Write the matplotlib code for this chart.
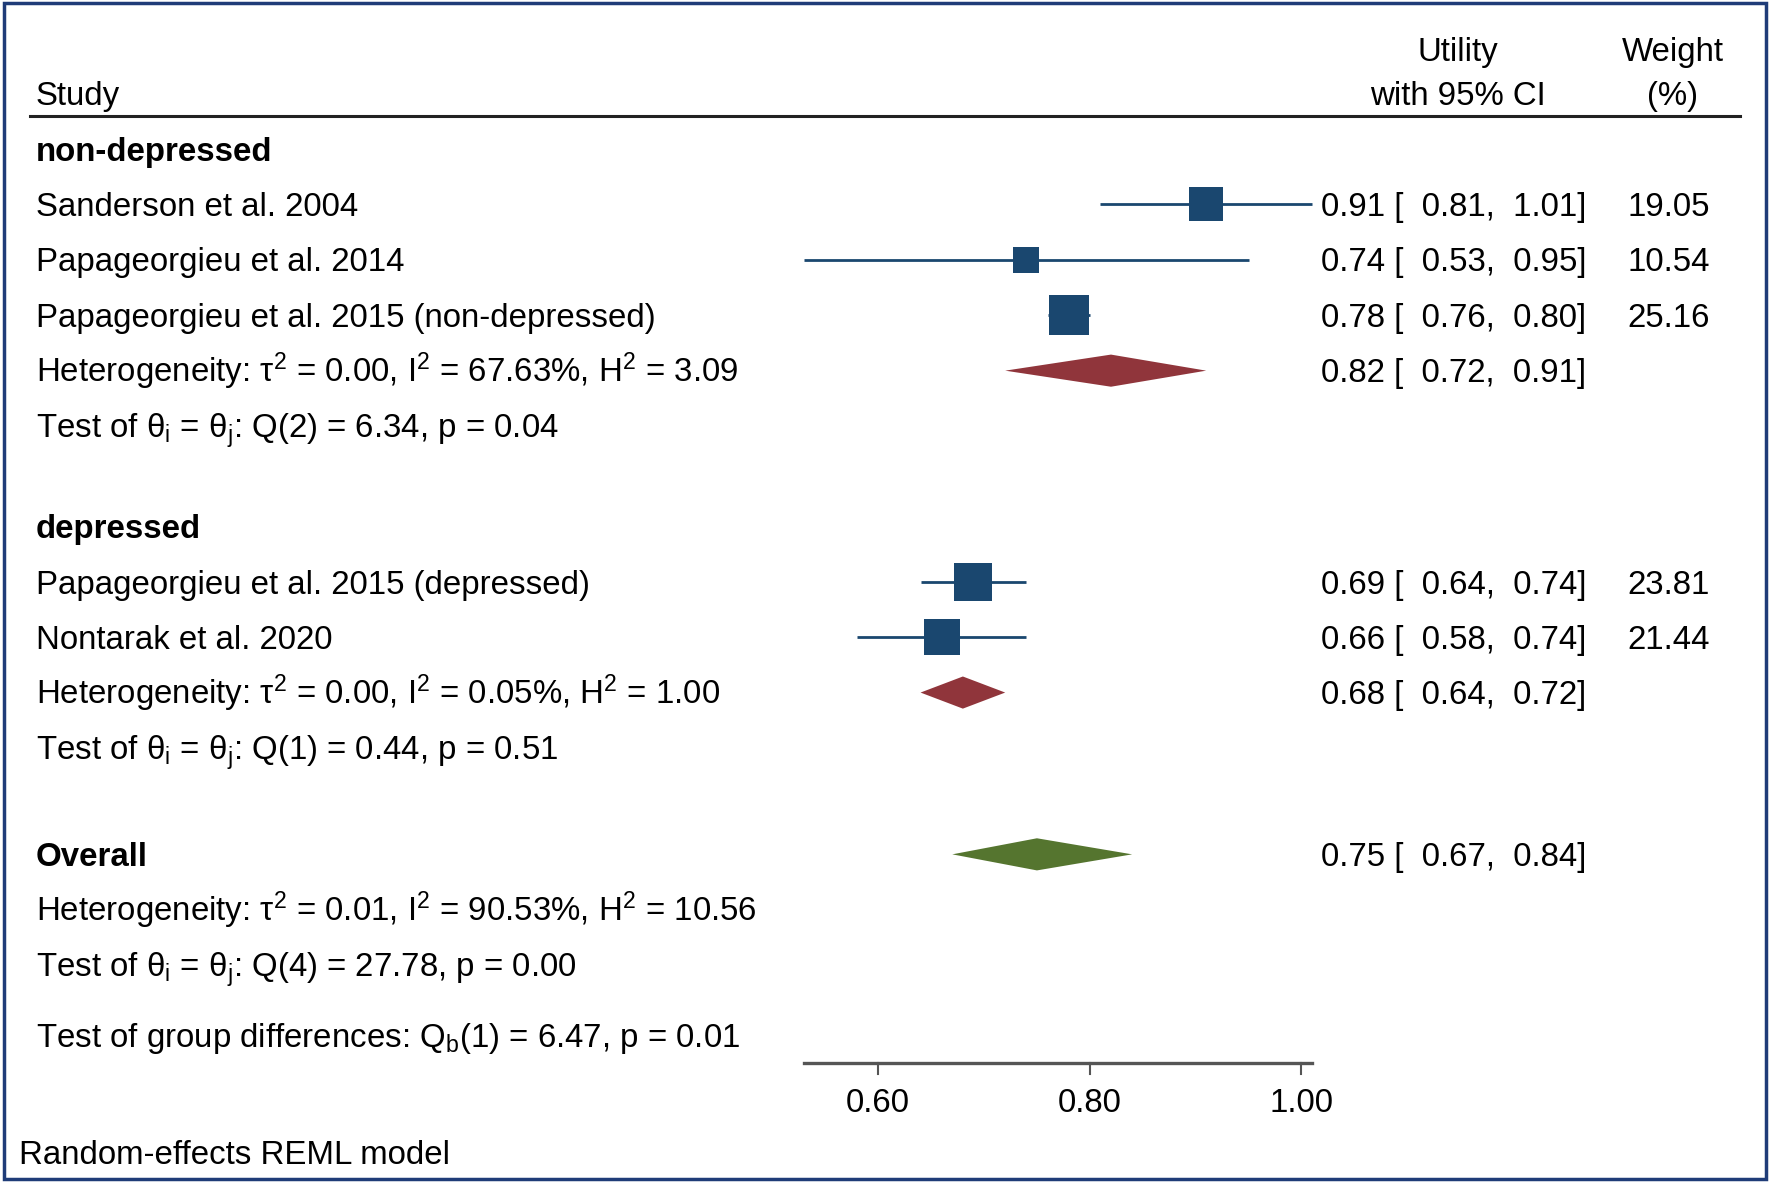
import numpy as np
import matplotlib
matplotlib.use("Agg")
import matplotlib.pyplot as plt
from matplotlib.patches import Polygon, Rectangle

plt.rcParams['font.family'] = ['Liberation Sans', 'DejaVu Sans']
plt.rcParams['mathtext.fontset'] = 'custom'
plt.rcParams['mathtext.rm'] = 'Liberation Sans'
plt.rcParams['mathtext.it'] = 'Liberation Sans:italic'

# ---- data ----
studies = ["Sanderson et al. 2004", "Papageorgieu et al. 2014",
           "Papageorgieu et al. 2015 (non-depressed)",
           "Papageorgieu et al. 2015 (depressed)", "Nontarak et al. 2020"]
est = [0.91, 0.74, 0.78, 0.69, 0.66]
lo = [0.81, 0.53, 0.76, 0.64, 0.58]
hi = [1.01, 0.95, 0.80, 0.74, 0.74]
weight = [19.05, 10.54, 25.16, 23.81, 21.44]

group_names = ["non-depressed", "depressed"]
group_est = [0.82, 0.68]
group_lo = [0.72, 0.64]
group_hi = [0.91, 0.72]
group_het = [r"Heterogeneity: τ$^2$ = 0.00, I$^2$ = 67.63%, H$^2$ = 3.09",
             r"Heterogeneity: τ$^2$ = 0.00, I$^2$ = 0.05%, H$^2$ = 1.00"]
group_test = [r"Test of θ$_\mathrm{i}$ = θ$_\mathrm{j}$: Q(2) = 6.34, p = 0.04",
              r"Test of θ$_\mathrm{i}$ = θ$_\mathrm{j}$: Q(1) = 0.44, p = 0.51"]

overall_est, overall_lo, overall_hi = 0.75, 0.67, 0.84
overall_het = r"Heterogeneity: τ$^2$ = 0.01, I$^2$ = 90.53%, H$^2$ = 10.56"
overall_test = r"Test of θ$_\mathrm{i}$ = θ$_\mathrm{j}$: Q(4) = 27.78, p = 0.00"
group_diff = r"Test of group differences: Q$_\mathrm{b}$(1) = 6.47, p = 0.01"

xticks = [0.60, 0.80, 1.00]

# ---- layout (row units, top to bottom) ----
study_rows = [1.0, 2.0, 3.0, 7.82, 8.81]
group_rows = [0.0, 6.81]
gsum_rows = [4.0, 9.81]
gtest_rows = [5.0, 10.81]
overall_row = 12.73

navy = "#1a476f"
maroon = "#90353b"
green = "#55752f"
fs = 23.8
base = 0.21  # baseline offset so the cap height is centred on the row

fig = plt.figure(figsize=(17.7, 11.84), dpi=100)
ax = fig.add_axes([0, 0, 1, 1])
ax.set_xlim(-0.2301, 1.4429)
ax.set_ylim(18.68, -2.69)
ax.axis("off")

tr = ax.get_yaxis_transform()  # x in axes fraction, y in data
x_left = 0.0203
x_es = 0.7463
x_w = 0.966


def txt(x, row, s, ha="left", trans=tr, **kw):
    ax.text(x, row + base, s, transform=trans, fontsize=fs, va="baseline",
            ha=ha, **kw)


# header
txt(x_left, -1.0, "Study")
txt(0.8237, -1.79, "Utility", ha="center")
txt(0.8237, -1.0, "with 95% CI", ha="center")
txt(0.945, -1.79, "Weight", ha="center")
txt(0.945, -1.0, "(%)", ha="center")
ax.axhline(-0.59, xmin=0.0169, xmax=0.983, color="#222222", lw=2.2)


def ci_text(e, l, h):
    return "%.2f [  %.2f,  %.2f]" % (e, l, h)


def diamond(e, l, h, y, color):
    hh = 0.29
    ax.add_patch(Polygon([[l, y], [e, y - hh], [h, y], [e, y + hh]],
                         closed=True, facecolor=color, edgecolor="none"))


# groups
gi = [[0, 1, 2], [3, 4]]
for g in range(2):
    txt(x_left, group_rows[g], group_names[g], fontweight="bold")
    for i in gi[g]:
        y = study_rows[i]
        txt(x_left, y, studies[i])
        ax.plot([lo[i], hi[i]], [y, y], color=navy, lw=2.0, solid_capstyle="butt")
        ax.plot(est[i], y, marker="s", color=navy, markeredgewidth=0,
                markersize=5.6 * np.sqrt(weight[i]))
        txt(x_es, y, ci_text(est[i], lo[i], hi[i]))
        txt(x_w, y, "%.2f" % weight[i], ha="right")
    y = gsum_rows[g]
    txt(x_left, y, group_het[g])
    diamond(group_est[g], group_lo[g], group_hi[g], y, maroon)
    txt(x_es, y, ci_text(group_est[g], group_lo[g], group_hi[g]))
    txt(x_left, gtest_rows[g], group_test[g])

# overall
txt(x_left, overall_row, "Overall", fontweight="bold")
diamond(overall_est, overall_lo, overall_hi, overall_row, green)
txt(x_es, overall_row, ci_text(overall_est, overall_lo, overall_hi))
txt(x_left, overall_row + 1, overall_het)
txt(x_left, overall_row + 2, overall_test)
txt(x_left, 15.99, group_diff)

# x axis
ax_y = 16.5
ax.plot([min(lo), max(hi)], [ax_y, ax_y], color="#555555", lw=2.4)
for t in xticks:
    ax.plot([t, t], [ax_y, ax_y + 0.2], color="#555555", lw=1.5)
    txt(t, 17.17, "%.2f" % t, ha="center", trans=ax.transData)

txt(0.011, 18.1, "Random-effects REML model")

# outer frame
fig.patches.append(Rectangle((4 / 1770, 5 / 1184), 1762 / 1770, 1176 / 1184,
                             transform=fig.transFigure, fill=False,
                             edgecolor="#1f3c78", lw=2.5))

fig.savefig("out.png", dpi=100)
